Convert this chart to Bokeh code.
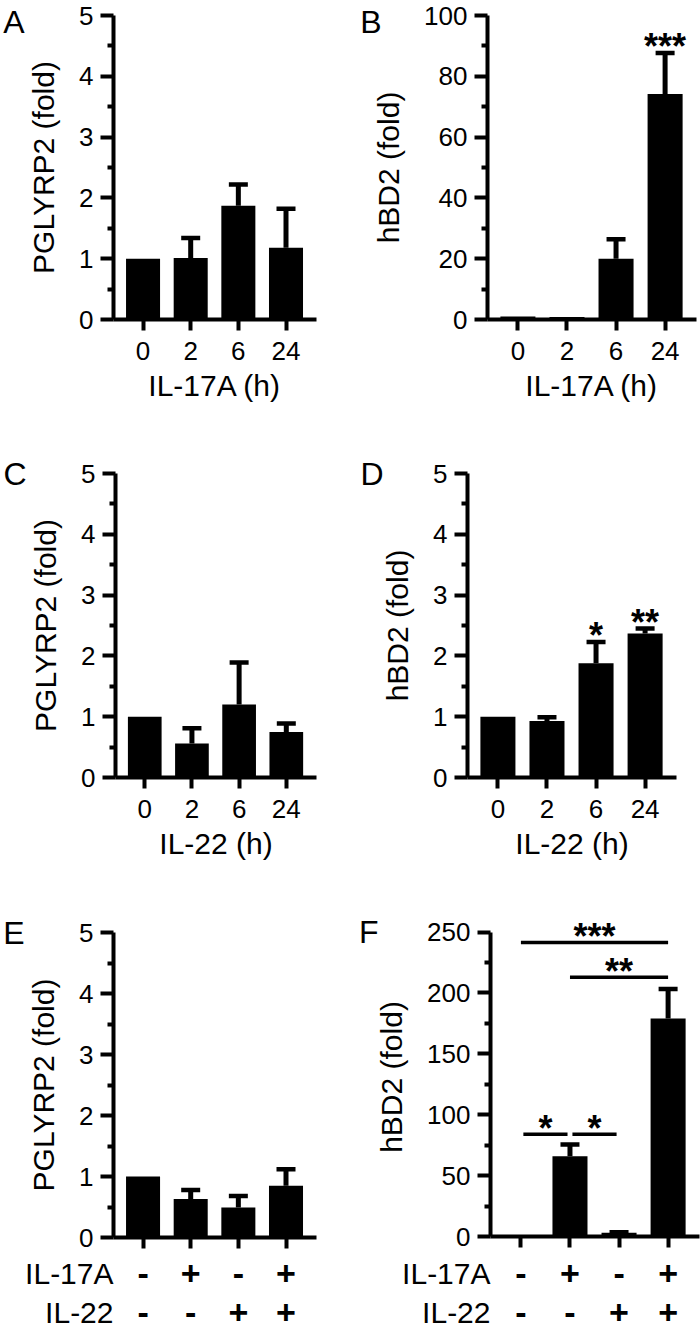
from bokeh.plotting import figure
from bokeh.models import Range1d, FixedTicker, LinearAxis
from bokeh.layouts import column, row
from bokeh.embed import file_html
from bokeh.resources import INLINE
from bokeh.core.properties import value

FONT = "Liberation Sans"

# ---------------- data ----------------
hours = ["0", "2", "6", "24"]
treat_names = ["IL-17A", "IL-22"]
il17a_rows = ["-", "+", "-", "+"]
il22_rows = ["-", "-", "+", "+"]

a_mean = [1.0, 1.01, 1.87, 1.18]
a_err = [0.0, 0.33, 0.35, 0.64]

b_mean = [1.0, 0.8, 20.0, 74.2]
b_err = [0.0, 0.0, 6.4, 13.5]
b_sig = ["", "", "", "***"]

c_mean = [1.0, 0.56, 1.20, 0.75]
c_err = [0.0, 0.25, 0.69, 0.14]

d_mean = [1.0, 0.93, 1.88, 2.37]
d_err = [0.0, 0.06, 0.35, 0.08]
d_sig = ["", "", "*", "**"]

e_mean = [1.0, 0.63, 0.49, 0.85]
e_err = [0.0, 0.15, 0.19, 0.27]

f_mean = [1.0, 66.0, 3.0, 179.0]
f_err = [0.0, 9.6, 0.5, 24.3]
f_brk_from = [0, 1, 0, 1]
f_brk_to = [3, 3, 1, 2]
f_brk_y = [241.5, 213.0, 84.0, 84.0]
f_brk_text = ["***", "**", "*", "*"]

fold_ticks = [0, 1, 2, 3, 4, 5]
fold_minor = [0.5, 1.5, 2.5, 3.5, 4.5]
b_ticks = [0, 20, 40, 60, 80, 100]
b_minor = [10, 30, 50, 70, 90]
f_ticks = [0, 50, 100, 150, 200, 250]
f_minor = [25, 75, 125, 175, 225]

# ---------------- layout constants ----------------
COL_W = 350
FRAME_W = 209
X0, X1 = -0.62, 3.64
STAR_OFF = -6
SIGN_H = 80
SIGN_ROW_Y = [21, 60]         # px from top of the sign strip


def make_panel(letter, means, errs, ylabel, y_ticks, y_minor, fig_h,
               left, top, frame_h, letter_standoff, xlabels=None,
               xlabel=None, y_end=None, sig=None, brackets=None):
    y_top = y_ticks[-1]
    if y_end is None:
        y_end = y_top
    right = COL_W - left - FRAME_W
    bottom = fig_h - top - frame_h
    p = figure(width=COL_W, height=fig_h, x_range=Range1d(X0, X1),
               y_range=Range1d(0, y_end), output_backend="svg",
               toolbar_location=None, tools="",
               min_border_left=left, min_border_right=right,
               min_border_top=top, min_border_bottom=bottom)
    p.outline_line_color = None
    p.xgrid.visible = False
    p.ygrid.visible = False

    xs = list(range(len(means)))
    hi = [m + e for m, e in zip(means, errs)]
    p.vbar(x=xs, top=means, width=0.714, bottom=0, fill_color="black",
           line_color=None)
    ex = [x for x, e in zip(xs, errs) if e > 0]
    em = [m for m, e in zip(means, errs) if e > 0]
    eh = [h for h, e in zip(hi, errs) if e > 0]
    p.segment(x0=ex, y0=em, x1=ex, y1=eh, line_color="black", line_width=5)
    p.scatter(x=ex, y=eh, marker="dash", size=19, line_color="black",
              line_width=4.5)

    star_kw = dict(text_font=value(FONT), text_font_size="36px",
                   text_font_style="bold", text_align="center",
                   text_baseline="alphabetic", y_offset=STAR_OFF,
                   color="black")
    if sig is not None:
        p.text(x=xs, y=hi, text=sig, **star_kw)

    if brackets is not None:
        bf, bt, by, btxt = brackets
        insets = [0.05 if t - f == 1 else 0.0 for f, t in zip(bf, bt)]
        p.segment(x0=[f + i for f, i in zip(bf, insets)], y0=by,
                  x1=[t - i for t, i in zip(bt, insets)], y1=by,
                  line_color="black", line_width=3.5)
        p.text(x=[(f + t) / 2 for f, t in zip(bf, bt)], y=by, text=btxt,
               **star_kw)

    xa = p.xaxis[0]
    xa.ticker = FixedTicker(ticks=xs, minor_ticks=[])
    xa.axis_line_width = 4
    xa.major_tick_line_width = 4
    xa.major_tick_in = 0
    xa.major_tick_out = 11
    xa.minor_tick_line_color = None
    xa.major_label_text_font = FONT
    xa.major_label_text_color = "black"
    if xlabels is not None:
        xa.major_label_overrides = {i: t for i, t in enumerate(xlabels)}
        xa.major_label_text_font_size = "26px"
        xa.major_label_standoff = 11
    else:
        xa.major_label_text_font_size = "0px"
        xa.major_label_standoff = 0
        xa.major_label_text_color = None
    if xlabel:
        xa.axis_label = xlabel
        xa.axis_label_text_font = FONT
        xa.axis_label_text_font_size = "30px"
        xa.axis_label_text_font_style = "normal"
        xa.axis_label_text_color = "black"
        xa.axis_label_standoff = 6

    ya = p.yaxis[0]
    ya.ticker = FixedTicker(ticks=y_ticks, minor_ticks=y_minor)
    ya.bounds = (0, y_top)
    ya.axis_line_width = 4
    ya.major_tick_line_width = 4
    ya.major_tick_in = 0
    ya.major_tick_out = 13
    ya.minor_tick_line_width = 4
    ya.minor_tick_in = 0
    ya.minor_tick_out = 6
    ya.major_label_text_font = FONT
    ya.major_label_text_font_size = "26px"
    ya.major_label_text_color = "black"
    ya.major_label_standoff = 7
    ya.axis_label = ylabel
    ya.axis_label_text_font = FONT
    ya.axis_label_text_font_size = "30px"
    ya.axis_label_text_font_style = "normal"
    ya.axis_label_text_color = "black"
    ya.axis_label_standoff = 16

    # panel letter: an outer, line-less left axis carrying one label
    la = LinearAxis(ticker=FixedTicker(ticks=[y_top], minor_ticks=[]),
                    major_label_overrides={y_top: letter},
                    axis_line_color=None, major_tick_line_color=None,
                    minor_tick_line_color=None, major_tick_in=0,
                    major_tick_out=0, major_label_standoff=letter_standoff,
                    major_label_text_font=FONT,
                    major_label_text_font_size="32px",
                    major_label_text_color="black")
    p.add_layout(la, "left")
    return p


def make_signs(left):
    right = COL_W - left - FRAME_W
    s = figure(width=COL_W, height=SIGN_H, x_range=Range1d(X0, X1),
               y_range=Range1d(SIGN_H, 0), output_backend="svg",
               toolbar_location=None, tools="", x_axis_location=None,
               y_axis_location=None, min_border_left=left,
               min_border_right=right, min_border_top=0, min_border_bottom=0)
    s.outline_line_color = None
    s.grid.visible = False
    xs = list(range(len(il17a_rows)))
    for signs, yr in zip([il17a_rows, il22_rows], SIGN_ROW_Y):
        s.text(x=xs, y=[yr] * len(xs), text=signs, text_font=value(FONT),
               text_font_size="34px", text_font_style="bold",
               text_align="center", text_baseline="middle", color="black")
    # row names as tick labels of a line-less left axis
    na = LinearAxis(ticker=FixedTicker(ticks=SIGN_ROW_Y, minor_ticks=[]),
                    major_label_overrides={y: n for y, n in
                                           zip(SIGN_ROW_Y, treat_names)},
                    axis_line_color=None, major_tick_line_color=None,
                    minor_tick_line_color=None, major_tick_in=0,
                    major_tick_out=0, major_label_standoff=0,
                    major_label_text_font=FONT,
                    major_label_text_font_size="30px",
                    major_label_text_color="black")
    s.add_layout(na, "left")
    return s


ROW3_H = 437 - SIGN_H
pA = make_panel("A", a_mean, a_err, "PGLYRP2 (fold)", fold_ticks, fold_minor,
                445, 107, 15, 304, 0, xlabels=hours, xlabel="IL-17A (h)")
pB = make_panel("B", b_mean, b_err, "hBD2 (fold)", b_ticks, b_minor,
                445, 137, 15, 304, -12, xlabels=hours, xlabel="IL-17A (h)",
                sig=b_sig)
pC = make_panel("C", c_mean, c_err, "PGLYRP2 (fold)", fold_ticks, fold_minor,
                450, 107, 28, 304, 0, xlabels=hours, xlabel="IL-22 (h)")
pD = make_panel("D", d_mean, d_err, "hBD2 (fold)", fold_ticks, fold_minor,
                450, 117, 28, 304, -5, xlabels=hours, xlabel="IL-22 (h)",
                sig=d_sig)
pE = make_panel("E", e_mean, e_err, "PGLYRP2 (fold)", fold_ticks, fold_minor,
                ROW3_H, 107, 37, 305, 0)
pF = make_panel("F", f_mean, f_err, "hBD2 (fold)", f_ticks, f_minor,
                ROW3_H, 140, 22, 319, -6, y_end=262,
                brackets=(f_brk_from, f_brk_to, f_brk_y, f_brk_text))
sE = make_signs(107)
sF = make_signs(140)

layout = column(row(pA, pB), row(pC, pD),
                row(column(pE, sE), column(pF, sF)))
open("out.html", "w").write(file_html(layout, INLINE))
